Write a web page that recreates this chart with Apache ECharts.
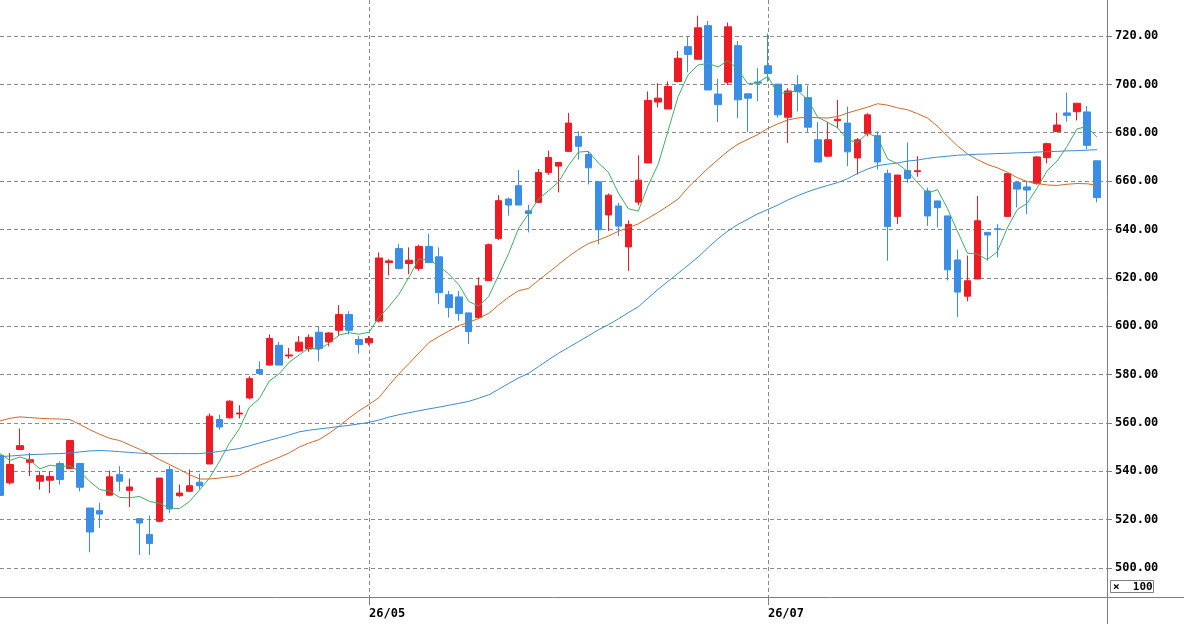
<!DOCTYPE html>
<html>
<head>
<meta charset="utf-8">
<script src="https://cdn.jsdelivr.net/npm/echarts@6/dist/echarts.min.js"></script>
<style>
  html, body { margin: 0; padding: 0; background: #fff; }
  #main { width: 1184px; height: 624px; }
</style>
</head>
<body>
<div id="main"></div>
<script type="text/javascript">
    // daily prices (x100)
    var opens = [546.5,535.2,549.0,543.7,535.9,536.3,543.2,541.1,543.2,524.8,
        523.7,530.1,538.6,532.1,520.4,513.8,519.3,540.7,529.9,531.7,
        535.5,543.0,561.4,562.1,563.7,570.3,582.1,583.9,592.1,587.7,
        589.7,590.6,597.5,593.5,598.3,604.8,594.5,593.1,602.1,626.3,
        632.1,625.9,623.9,633.0,628.7,613.0,612.1,605.5,603.6,618.8,
        636.3,652.6,658.1,647.7,651.2,663.6,666.2,672.3,678.5,671.0,
        659.7,646.0,649.7,632.8,651.3,667.5,692.7,689.8,701.2,715.6,
        710.4,724.3,696.0,700.9,716.0,696.1,701.0,707.7,700.1,686.4,
        699.7,694.5,677.1,670.3,685.0,684.0,669.6,679.6,678.8,663.2,
        645.4,664.4,663.9,655.9,651.8,645.6,627.4,612.4,619.5,638.8,
        640.3,645.4,659.4,657.6,659.0,669.7,680.5,688.2,688.7,688.6,
        668.4];
    var closes = [530.0,542.8,550.6,544.8,538.2,537.8,536.6,552.7,533.4,514.9,
        522.3,537.7,535.9,533.5,518.6,510.1,537.2,524.4,531.0,534.0,
        534.0,562.8,558.3,569.0,564.1,578.3,580.4,594.9,583.9,588.1,
        593.4,595.4,590.8,597.2,604.8,598.3,592.4,594.9,628.2,627.0,
        623.9,627.3,633.0,626.3,613.9,607.7,605.2,597.8,616.7,633.7,
        651.9,650.1,650.1,646.6,663.6,669.8,667.7,684.0,674.4,665.5,
        639.9,654.2,641.4,642.1,660.4,693.4,694.3,699.1,710.8,712.4,
        723.4,697.7,691.6,723.8,693.6,694.3,700.5,704.5,687.4,697.3,
        697.0,682.3,667.9,677.1,685.6,672.1,677.1,687.4,667.9,641.2,
        662.5,661.1,664.3,645.6,649.0,623.3,614.1,618.8,643.6,637.7,
        640.0,663.1,656.7,656.3,670.0,675.5,683.2,687.2,692.2,674.8,
        653.2];
    var lows = [527.0,534.5,548.7,538.0,532.4,531.0,534.5,541.0,531.7,506.5,
        516.6,530.0,531.7,525.2,505.4,505.4,518.9,522.8,529.4,531.7,
        532.5,543.0,557.2,561.8,561.8,569.7,580.0,583.9,583.9,586.6,
        589.4,589.4,585.5,591.7,595.9,596.6,588.6,592.1,601.5,621.0,
        623.5,621.5,622.9,626.3,609.1,603.6,602.2,592.6,602.9,618.8,
        635.6,645.7,650.1,638.8,651.0,662.6,655.3,672.0,668.9,658.6,
        633.9,639.4,637.3,622.9,650.0,667.5,690.5,689.8,700.8,705.0,
        710.4,697.7,684.4,699.8,686.1,680.2,693.0,701.1,686.3,675.8,
        688.8,680.3,667.9,669.9,681.9,666.2,662.7,678.5,664.8,627.1,
        642.2,659.3,661.8,641.5,640.8,618.9,603.8,610.3,619.5,627.1,
        628.5,645.2,649.1,646.4,658.5,667.3,680.5,684.6,685.1,673.2,
        651.2];
    var highs = [547.0,547.6,557.7,547.6,540.0,540.0,544.1,552.7,543.5,524.8,
        526.9,540.3,542.1,537.0,520.4,521.7,537.2,542.3,534.5,540.7,
        539.0,563.9,563.4,569.4,567.3,579.3,585.5,596.6,593.5,591.0,
        595.9,596.6,600.0,597.5,608.7,606.2,595.9,595.9,630.5,627.7,
        633.9,632.6,633.7,638.1,632.6,614.6,614.6,605.5,620.1,634.2,
        654.2,653.2,664.6,650.2,665.0,672.6,667.7,688.2,680.6,672.3,
        659.7,654.9,651.0,643.8,670.7,697.1,700.5,701.2,713.8,720.0,
        728.4,726.2,702.3,725.6,718.0,696.1,706.7,721.0,700.1,698.4,
        703.8,699.5,684.4,684.4,693.6,690.8,677.8,688.1,680.5,664.8,
        662.5,676.0,670.3,657.3,651.8,645.6,631.7,629.2,653.9,638.8,
        642.2,663.3,660.1,660.1,670.4,675.9,688.3,696.6,692.2,691.1,
        668.4];

    // moving averages as drawn (short / middle / long)
    var ma5 = [547.3,544.5,545.9,544.6,541.0,542.5,542.0,542.2,540.0,535.8,
        532.4,531.8,529.2,529.0,529.6,527.5,526.8,524.7,524.6,527.5,
        532.2,537.2,544.0,551.6,557.6,566.5,570.0,577.3,580.3,585.1,
        588.1,591.1,590.3,593.0,596.3,597.3,596.7,597.5,603.7,608.1,
        613.2,620.2,627.8,627.5,624.9,621.6,617.2,610.2,608.3,612.2,
        621.1,630.0,640.5,646.5,652.5,656.0,659.6,666.4,672.0,672.3,
        667.5,663.7,655.1,648.6,647.6,658.3,667.0,681.0,695.0,704.0,
        708.0,708.7,707.2,709.8,706.0,700.2,700.8,703.3,696.1,696.8,
        697.3,693.7,686.4,684.3,682.0,677.0,676.0,679.9,678.0,669.1,
        667.2,664.0,659.4,654.9,656.5,648.7,639.3,630.2,629.8,627.5,
        630.8,640.6,648.2,650.8,657.2,664.3,668.3,674.4,681.6,682.6,
        678.1];
    var ma25 = [560.8,561.9,562.5,562.2,561.9,561.7,561.6,561.4,559.4,557.2,
        555.3,553.6,552.7,550.9,549.1,547.1,544.8,542.8,540.7,538.6,
        536.8,536.8,537.2,537.7,538.3,540.4,542.4,544.1,545.8,547.6,
        550.0,551.7,553.1,555.7,558.7,562.0,565.0,567.6,570.5,575.5,
        580.3,584.5,588.9,593.2,595.7,598.0,600.2,601.6,603.2,605.3,
        608.8,612.0,614.7,615.6,619.0,622.2,625.5,628.8,631.7,634.2,
        635.6,637.3,639.2,640.8,642.3,644.7,647.1,649.8,652.6,657.4,
        661.4,665.3,668.9,672.4,675.3,677.3,679.3,681.8,683.7,685.3,
        686.1,686.5,686.2,686.1,686.7,688.2,689.4,690.6,692.0,691.4,
        690.3,689.5,687.9,686.1,682.7,678.6,674.6,671.3,668.9,666.9,
        665.5,663.7,661.4,659.8,659.0,658.4,658.2,658.7,659.0,658.9,
        658.3];
    var ma75 = [546.1,546.3,546.6,546.9,547.0,547.2,547.3,547.6,548.0,548.4,
        548.6,548.4,548.1,547.8,547.5,547.3,547.3,547.3,547.3,547.3,
        547.3,547.7,548.2,548.8,549.4,550.5,551.7,552.8,553.9,555.0,
        556.3,557.0,557.5,558.0,558.5,559.0,559.6,560.2,561.2,562.4,
        563.4,564.2,565.0,565.8,566.5,567.3,568.1,568.9,570.2,571.6,
        573.9,576.3,578.6,580.5,583.3,586.1,588.8,591.2,593.6,596.0,
        598.5,600.6,603.0,605.6,608.0,611.7,615.3,618.6,621.9,625.2,
        628.6,632.5,636.2,639.4,642.1,644.3,646.5,648.3,650.1,652.2,
        654.0,655.6,657.0,658.2,659.4,661.0,663.2,665.0,666.4,667.0,
        667.5,668.3,668.7,669.4,669.9,670.3,670.7,670.9,671.1,671.2,
        671.4,671.5,671.7,671.8,672.0,672.2,672.3,672.5,672.6,672.8,
        673.0];

    // month marks on the time axis (index of first trading day)
    var monthLabels = { 37: '26/05', 77: '26/07' };
    var priceTicks = [500, 520, 540, 560, 580, 600, 620, 640, 660, 680, 700, 720];

    // one spare slot on the right of the last day
    var days = [];
    for (var i = 0; i <= closes.length; i++) { days.push('d' + i); }

    var candles = [];
    for (var j = 0; j < closes.length; j++) {
        candles.push([opens[j], closes[j], lows[j], highs[j]]);
    }

    var monoFont = '"DejaVu Sans Mono", "Liberation Mono", monospace';
    var gridLine = { color: '#8a8a8a', width: 1, type: [4, 3] };
    function isMonth(index) { return monthLabels[index] !== undefined; }

    var myChart = echarts.init(document.getElementById('main'));
    var myOption = {
        animation: false,
        backgroundColor: '#ffffff',
        grid: { left: -3, right: 77, top: 0, bottom: 27, containLabel: false },
        xAxis: {
            type: 'category',
            data: days,
            boundaryGap: false,
            axisLine: { lineStyle: { color: '#808080', width: 1 } },
            axisTick: { show: true, length: 8, interval: function (i) { return isMonth(i); },
                lineStyle: { color: '#808080' } },
            axisLabel: {
                interval: function (i) { return isMonth(i); },
                formatter: function (v, i) { return monthLabels[i] || ''; },
                align: 'left', margin: 11,
                color: '#000', fontFamily: monoFont, fontWeight: 'bold', fontSize: 12
            },
            splitLine: { show: true, interval: function (i) { return isMonth(i); }, lineStyle: gridLine }
        },
        yAxis: {
            type: 'value',
            position: 'right',
            min: 488,
            max: 734.9,
            scale: true,
            axisLine: { show: true, lineStyle: { color: '#808080', width: 1 } },
            axisTick: { show: true, length: 5, inside: false, customValues: priceTicks,
                lineStyle: { color: '#808080' } },
            axisLabel: {
                customValues: priceTicks,
                formatter: function (v) { return v.toFixed(2); },
                margin: 8,
                color: '#000', fontFamily: monoFont, fontWeight: 'bold', fontSize: 12
            },
            splitLine: { show: true, lineStyle: gridLine }
        },
        graphic: [
            { type: 'line', silent: true, shape: { x1: 1107, y1: 597.5, x2: 1184, y2: 597.5 },
              style: { stroke: '#808080', lineWidth: 1 } },
            { type: 'line', silent: true, shape: { x1: 1107.5, y1: 597, x2: 1107.5, y2: 624 },
              style: { stroke: '#808080', lineWidth: 1 } },
            { type: 'rect', silent: true, shape: { x: 1110.5, y: 580.5, width: 43, height: 12 },
              style: { fill: '#fff', stroke: '#808080', lineWidth: 1 } },
            { type: 'text', silent: true, x: 1113, y: 587,
              style: { text: '×  100', fill: '#000', font: 'bold 11px ' + monoFont,
                  verticalAlign: 'middle' } }
        ],
        series: [
            {
                name: 'price',
                type: 'candlestick',
                data: candles,
                barWidth: 7,
                itemStyle: {
                    color: '#ed1c24',
                    color0: '#3a8ee6',
                    borderColor: '#ed1c24',
                    borderColor0: '#3a8ee6',
                    borderWidth: 1
                }
            },
            {
                name: 'MA5', type: 'line', data: ma5, showSymbol: false, symbol: 'none',
                lineStyle: { color: '#3fae62', width: 1 }
            },
            {
                name: 'MA25', type: 'line', data: ma25, showSymbol: false, symbol: 'none',
                lineStyle: { color: '#cc6a2c', width: 1 }
            },
            {
                name: 'MA75', type: 'line', data: ma75, showSymbol: false, symbol: 'none',
                lineStyle: { color: '#3d8ccc', width: 1 }
            }
        ]
    };

    myChart.setOption(myOption);
</script>
</body>
</html>
